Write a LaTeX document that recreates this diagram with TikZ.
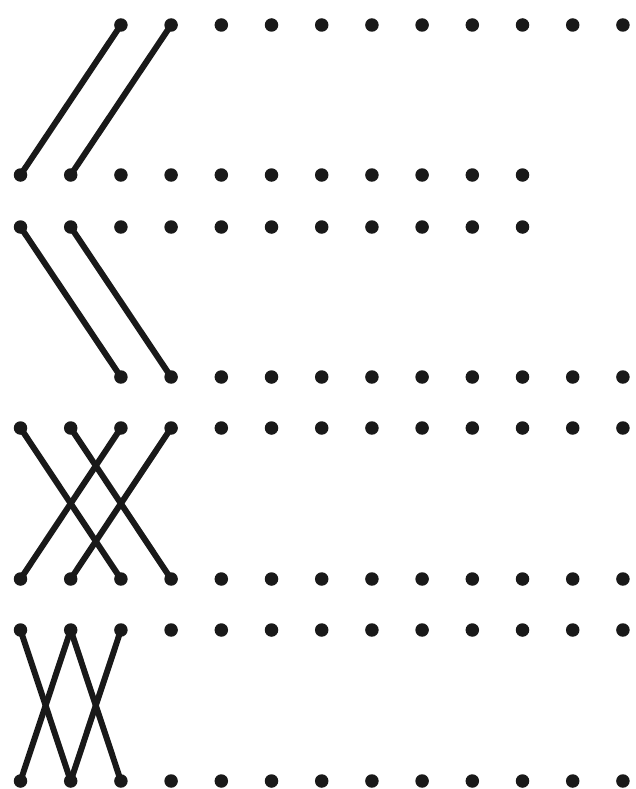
\documentclass[tikz,border=0pt]{standalone}
\definecolor{ink}{RGB}{25,25,25}
\tikzset{
  pt/.style={circle, fill=ink, inner sep=0pt, minimum size=13.5pt},
  link/.style={draw=ink, line width=6pt, line cap=round}
}
\begin{document}
\begin{tikzpicture}[x=1pt,y=-1pt]
\useasboundingbox (0,0) rectangle (636,789);
% panel 1
\foreach \i in {2,...,12} \node[pt] (a\i) at (20.5+50.2*\i,25) {};
\foreach \i in {0,...,10} \node[pt] (b\i) at (20.5+50.2*\i,175) {};
\draw[link] (b0.center) -- (a2.center);
\draw[link] (b1.center) -- (a3.center);
% panel 2
\foreach \i in {0,...,10} \node[pt] (c\i) at (20.5+50.2*\i,227) {};
\foreach \i in {2,...,12} \node[pt] (d\i) at (20.5+50.2*\i,377) {};
\draw[link] (c0.center) -- (d2.center);
\draw[link] (c1.center) -- (d3.center);
% panel 3
\foreach \i in {0,...,12} \node[pt] (e\i) at (20.5+50.2*\i,428) {};
\foreach \i in {0,...,12} \node[pt] (f\i) at (20.5+50.2*\i,579) {};
\draw[link] (e0.center) -- (f2.center);
\draw[link] (e1.center) -- (f3.center);
\draw[link] (e2.center) -- (f0.center);
\draw[link] (e3.center) -- (f1.center);
% panel 4
\foreach \i in {0,...,12} \node[pt] (g\i) at (20.5+50.2*\i,630) {};
\foreach \i in {0,...,12} \node[pt] (h\i) at (20.5+50.2*\i,781) {};
\draw[link] (g0.center) -- (h1.center);
\draw[link] (g1.center) -- (h0.center);
\draw[link] (g1.center) -- (h2.center);
\draw[link] (g2.center) -- (h1.center);
\end{tikzpicture}
\end{document}
